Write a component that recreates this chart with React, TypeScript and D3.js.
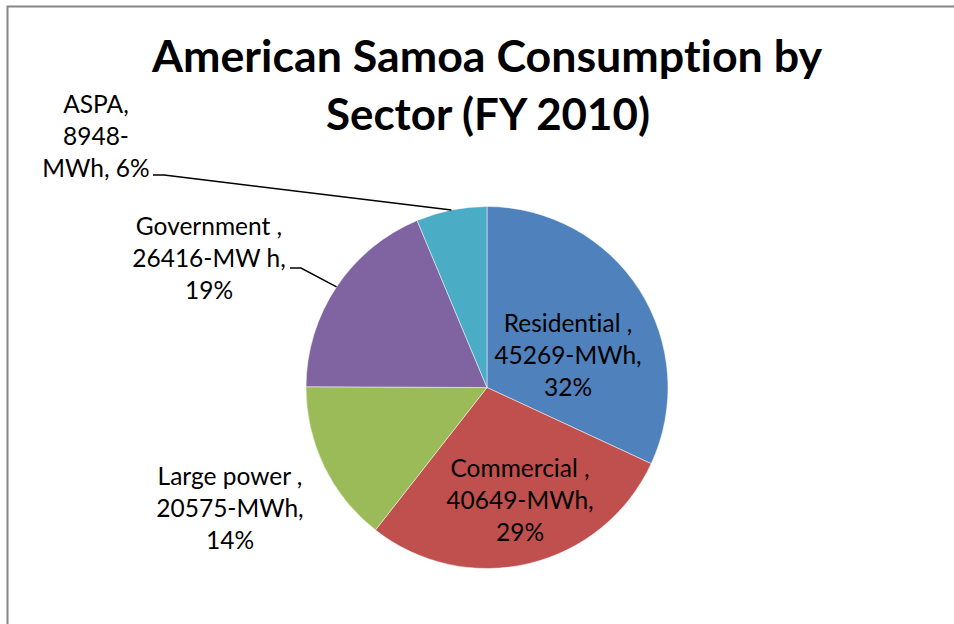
import React from "react";
import * as d3 from "d3";

const categories = ["Residential", "Commercial", "Large power", "Government", "ASPA"];
const values = [45269, 40649, 20575, 26416, 8948];
const colors = ["#4F81BD", "#C0504D", "#9BBB59", "#8064A2", "#4BACC6"];
const labelLines = [
  ["Residential ,", "45269-MWh,", "32%"],
  ["Commercial ,", "40649-MWh,", "29%"],
  ["Large power ,", "20575-MWh,", "14%"],
  ["Government ,", "26416-MW h,", "19%"],
  ["ASPA,", "8948-", "MWh, 6%"],
];
const titleLines = ["American Samoa Consumption by", "Sector (FY 2010)"];

const W = 954;
const H = 624;
const cx = 487;
const cy = 387.5;
const R = 181;

const labelPos = [
  { x: 568, y: 332, leader: null as null | [number, number] },
  { x: 520, y: 477, leader: null },
  { x: 230, y: 485, leader: null },
  { x: 209, y: 235, leader: [290, 268] as [number, number] },
  { x: 96, y: 113, leader: [153, 175] as [number, number] },
];

export default function App() {
  const data = categories.map((c, i) => ({ c, v: values[i], i }));
  const pie = d3.pie<any>().value((d) => d.v).sort(null).startAngle(0).endAngle(2 * Math.PI);
  const arcs = pie(data);
  const arcGen = d3.arc<any>().innerRadius(0).outerRadius(R);
  const font = "Lato, 'Open Sans', 'Noto Sans', sans-serif";
  const lineH = 32;

  return (
    <svg
      width={W}
      height={H}
      style={{ position: "absolute", left: 0, top: 0, background: "#fff", fontVariantLigatures: "none" }}
    >
      <rect x={7.5} y={6.5} width={W + 10} height={H + 10} fill="#fff" stroke="#868686" strokeWidth={2} />
      <g fontFamily={font} fontWeight="bold" fontSize={44} textAnchor="middle" fill="#000">
        <text x={487} y={72} textLength={670} lengthAdjust="spacingAndGlyphs">{titleLines[0]}</text>
        <text x={488} y={130} textLength={324} lengthAdjust="spacingAndGlyphs">{titleLines[1]}</text>
      </g>
      <g transform={`translate(${cx},${cy})`}>
        {arcs.map((a, i) => (
          <path key={i} d={arcGen(a) as string} fill={colors[i]} stroke="#ffffff" strokeOpacity={0.6} strokeWidth={0.8} />
        ))}
      </g>
      {arcs.map((a, i) => {
        const p = labelPos[i];
        if (!p.leader) return null;
        const mid = (a.startAngle + a.endAngle) / 2;
        const ex = cx + R * Math.sin(mid);
        const ey = cy - R * Math.cos(mid);
        const [sx, sy] = p.leader;
        return (
          <polyline
            key={"l" + i}
            points={`${sx},${sy} ${sx + 11},${sy} ${ex},${ey}`}
            fill="none"
            stroke="#000"
            strokeWidth={1.5}
          />
        );
      })}
      <g fontFamily={font} fontSize={24.5} textAnchor="middle" fill="#000">
        {labelLines.map((lines, i) => (
          <text key={i}>
            {lines.map((l, j) => (
              <tspan key={j} x={labelPos[i].x} y={labelPos[i].y + j * lineH}>
                {l}
              </tspan>
            ))}
          </text>
        ))}
      </g>
    </svg>
  );
}
